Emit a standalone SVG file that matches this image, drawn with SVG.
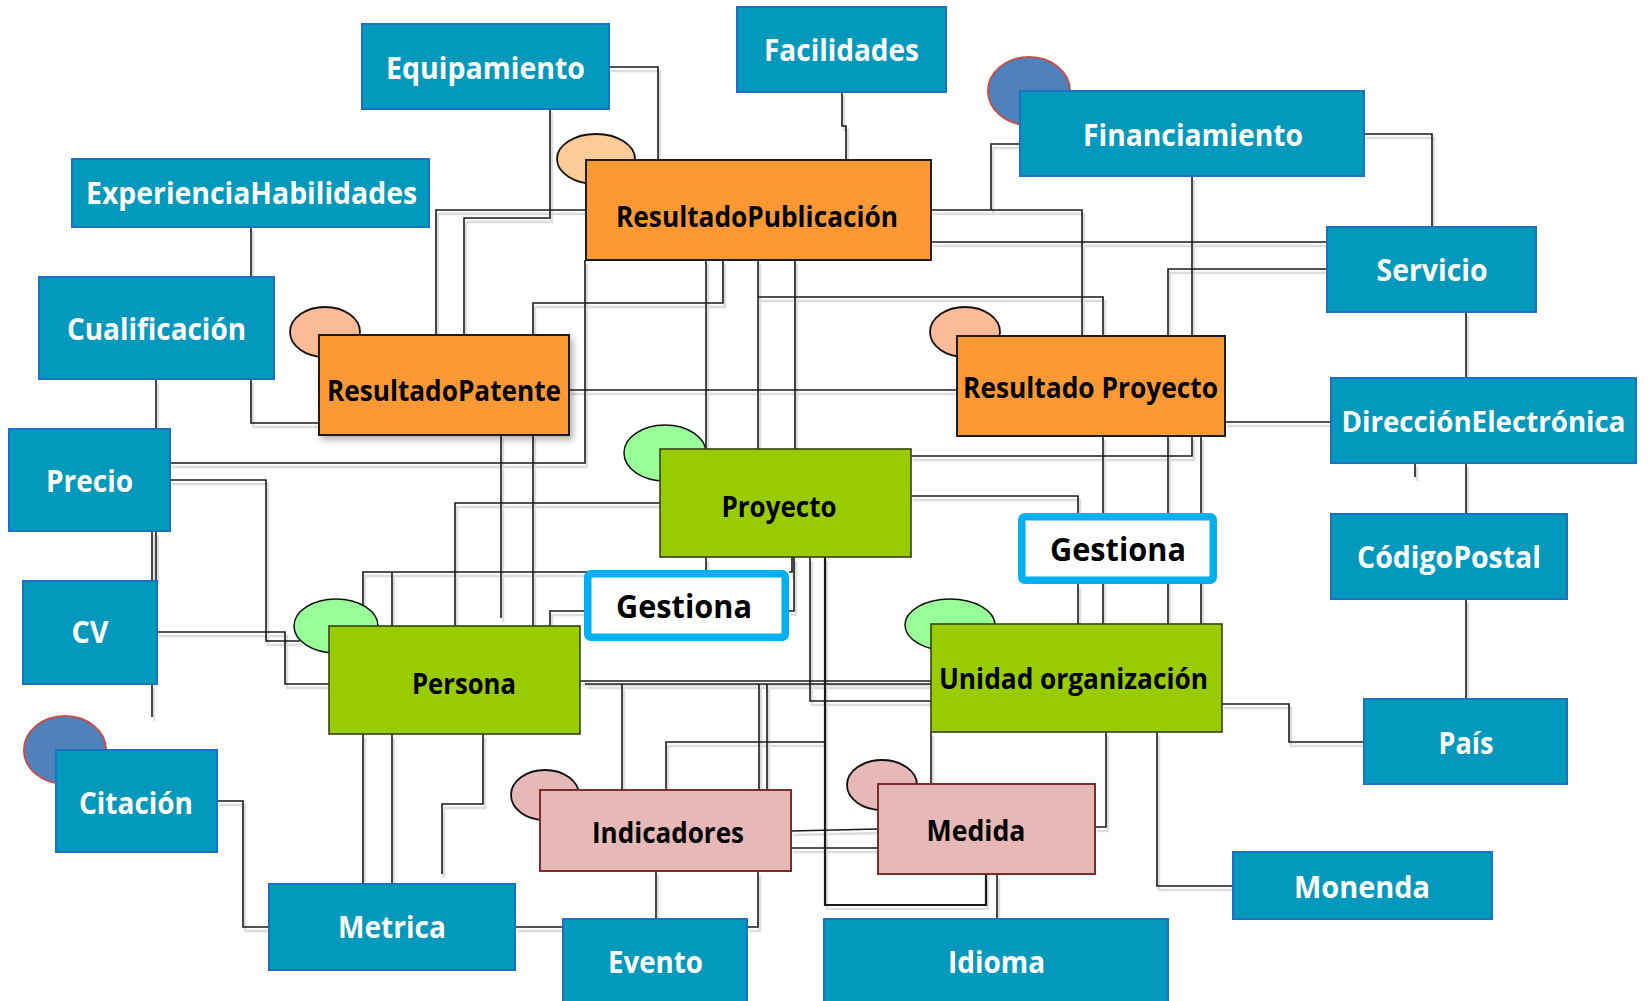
<svg xmlns="http://www.w3.org/2000/svg" xmlns:xlink="http://www.w3.org/1999/xlink" width="1650" height="1001" viewBox="0 0 1650 1001">
<defs>
<style>
.blue rect{fill:#0399bd;stroke:#1b72c4;stroke-width:2}
.org rect{fill:#fd9934;stroke:#1e1e1e;stroke-width:2}
.grn rect{fill:#99cc00;stroke:#34440c;stroke-width:1.6}
.pnk rect{fill:#e6b8b7;stroke:#7a2e2c;stroke-width:2}
.ges rect{fill:#ffffff;stroke:#00b0f0;stroke-width:7.5}
.e-peach{fill:#ffcc99;stroke:#111;stroke-width:1.8}
.e-salmon{fill:#fcbb98;stroke:#111;stroke-width:1.8}
.e-green{fill:#99ff99;stroke:#111;stroke-width:1.5}
.e-blue{fill:#4f81bd;stroke:#c0504d;stroke-width:2}
.e-pink{fill:#e6b8b7;stroke:#111;stroke-width:1.8}
.wt{font-family:"Open Sans","Noto Sans","Liberation Sans",sans-serif;font-weight:700;font-size:31px;fill:#ffffff;text-anchor:middle}
.bt{font-family:"Open Sans","Noto Sans","Liberation Sans",sans-serif;font-weight:700;font-size:28px;fill:#000000;text-anchor:middle}
.gt{font-family:"Open Sans","Noto Sans","Liberation Sans",sans-serif;font-weight:700;font-size:33px;fill:#000000;text-anchor:middle}
</style>
<filter id="sh" x="-10%" y="-10%" width="130%" height="140%">
<feDropShadow dx="3" dy="4" stdDeviation="3" flood-color="#000" flood-opacity="0.3"/>
</filter>
</defs>
<rect width="1650" height="1001" fill="#ffffff"/>

<g id="connectors" fill="none">
<use xlink:href="#links" href="#links" transform="translate(2,4)" stroke="#dddddd" stroke-width="2.5"/>
<g stroke="#1a1a1a" stroke-width="1.6">
<g id="links">
<path d="M251,227 V277"/>
<path d="M156,379 V429"/>
<path d="M251,379 V423 H319"/>
<path d="M152,531 V581 M156,531 V581"/>
<path d="M152,684 V717"/>
<path d="M170,463 H585 V260"/>
<path d="M170,480 H266 V641 H300"/>
<path d="M157,632 H285 V684 H329"/>
<path d="M217,801 H243 V927 H269"/>
<path d="M515,927 H563"/>
<path d="M363,734 V884 M392,734 V884"/>
<path d="M483,734 V804 H442 V874"/>
<path d="M609,67 H658 V160"/>
<path d="M550,109 V218 H464 V335"/>
<path d="M586,210 H436 V335"/>
<path d="M842,92 V126 H846 V160"/>
<path d="M723,260 V303 H533 V335"/>
<path d="M533,435 V626"/>
<path d="M501,435 V618"/>
<path d="M569,390 H957"/>
<path d="M706,260 V449 M758,260 V449 M795,260 V449"/>
<path d="M758,297 H1103 V336"/>
<path d="M455,626 V503 H660"/>
<path d="M363,626 V572 H706 V557 M392,626 V572"/>
<path d="M550,626 V611 H584"/>
<path d="M789,611 H794 V557 M789,572 H792 V557"/>
<path d="M911,456 H1192 V436"/>
<path d="M911,496 H1078 V513"/>
<path d="M1078,584 V624"/>
<path d="M1103,436 V624 M1168,436 V624 M1201,436 V624"/>
<path d="M1225,422 H1331"/>
<path d="M931,242 H1327"/>
<path d="M931,210 H1082 V336 M991,210 V144 H1020"/>
<path d="M1192,176 V336"/>
<path d="M1364,134 H1432 V227"/>
<path d="M1327,269 H1168 V336"/>
<path d="M1466,312 V378 M1466,463 V514 M1466,598 V699 M1415,463 V477"/>
<path d="M1222,704 H1289 V742 H1364"/>
<path d="M1157,732 V886 H1233"/>
<path d="M1106,732 V827 H1095"/>
<path d="M931,732 V784"/>
<path d="M997,874 V919"/>
<path d="M825,557 V905 H986 V874" stroke-width="2.2"/>
<path d="M810,557 V701 H931"/>
<path d="M580,681 H931 M585,684 H931"/>
<path d="M622,684 V790 M759,684 V790 M767,684 V790"/>
<path d="M666,790 V742 H825"/>
<path d="M791,831 L878,829 M791,848 H878"/>
<path d="M656,871 V919 M758,871 V927 H747"/>
</g>
</g>
</g>

<g id="n-equipamiento" class="blue"><rect x="362" y="24" width="247" height="85"/><text class="wt" x="485.5" y="79" textLength="199" lengthAdjust="spacingAndGlyphs">Equipamiento</text></g>
<g id="n-facilidades" class="blue"><rect x="737" y="7" width="209" height="85"/><text class="wt" x="841.5" y="61" textLength="155" lengthAdjust="spacingAndGlyphs">Facilidades</text></g>
<g id="n-experiencia" class="blue"><rect x="72" y="159" width="357" height="68"/><text class="wt" x="251.5" y="204" textLength="331" lengthAdjust="spacingAndGlyphs">ExperienciaHabilidades</text></g>
<g id="n-cualificacion" class="blue"><rect x="39" y="277" width="235" height="102"/><text class="wt" x="156.5" y="340" textLength="179" lengthAdjust="spacingAndGlyphs">Cualificación</text></g>
<g id="n-financiamiento" class="blue"><ellipse class="e-blue" cx="1029" cy="91" rx="41" ry="34"/><rect x="1020" y="91" width="344" height="85"/><text class="wt" x="1193" y="146" textLength="220" lengthAdjust="spacingAndGlyphs">Financiamiento</text></g>
<g id="n-servicio" class="blue"><rect x="1327" y="227" width="209" height="85"/><text class="wt" x="1432" y="281" textLength="111" lengthAdjust="spacingAndGlyphs">Servicio</text></g>
<g id="n-direccion" class="blue"><rect x="1331" y="378" width="305" height="85"/><text class="wt" x="1483.5" y="432" style="font-size:28px" textLength="284" lengthAdjust="spacingAndGlyphs">DirecciónElectrónica</text></g>
<g id="n-codigopostal" class="blue"><rect x="1331" y="514" width="236" height="85"/><text class="wt" x="1449" y="568" textLength="184" lengthAdjust="spacingAndGlyphs">CódigoPostal</text></g>
<g id="n-pais" class="blue"><rect x="1364" y="699" width="203" height="85"/><text class="wt" x="1466" y="754" textLength="55" lengthAdjust="spacingAndGlyphs">País</text></g>
<g id="n-monenda" class="blue"><rect x="1233" y="852" width="259" height="67"/><text class="wt" x="1362" y="898" textLength="136" lengthAdjust="spacingAndGlyphs">Monenda</text></g>
<g id="n-precio" class="blue"><rect x="9" y="429" width="161" height="102"/><text class="wt" x="89.5" y="492" textLength="87" lengthAdjust="spacingAndGlyphs">Precio</text></g>
<g id="n-cv" class="blue"><rect x="23" y="581" width="134" height="103"/><text class="wt" x="90" y="643" textLength="37" lengthAdjust="spacingAndGlyphs">CV</text></g>
<g id="n-citacion" class="blue"><ellipse class="e-blue" cx="65" cy="750" rx="41" ry="34"/><rect x="56" y="750" width="161" height="102"/><text class="wt" x="136" y="814" textLength="114" lengthAdjust="spacingAndGlyphs">Citación</text></g>
<g id="n-metrica" class="blue"><rect x="269" y="884" width="246" height="86"/><text class="wt" x="392" y="938" textLength="108" lengthAdjust="spacingAndGlyphs">Metrica</text></g>
<g id="n-evento" class="blue"><rect x="563" y="919" width="184" height="95"/><text class="wt" x="655.5" y="973" textLength="95" lengthAdjust="spacingAndGlyphs">Evento</text></g>
<g id="n-idioma" class="blue"><rect x="824" y="919" width="344" height="95"/><text class="wt" x="996.5" y="973" textLength="97" lengthAdjust="spacingAndGlyphs">Idioma</text></g>

<g id="n-resultadopublicacion" class="org"><ellipse class="e-peach" cx="596" cy="159" rx="39" ry="25"/><rect x="586" y="160" width="345" height="100"/><text class="bt" x="757" y="227" textLength="282" lengthAdjust="spacingAndGlyphs">ResultadoPublicación</text></g>
<g id="n-resultadopatente" class="org"><ellipse class="e-salmon" cx="325" cy="332" rx="35" ry="25"/><rect x="319" y="335" width="250" height="100" filter="url(#sh)"/><text class="bt" x="444" y="401" textLength="234" lengthAdjust="spacingAndGlyphs">ResultadoPatente</text></g>
<g id="n-resultadoproyecto" class="org"><ellipse class="e-salmon" cx="965" cy="332" rx="35" ry="25"/><rect x="957" y="336" width="268" height="100"/><text class="bt" x="1090.5" y="398" textLength="255" lengthAdjust="spacingAndGlyphs">Resultado Proyecto</text></g>

<g id="n-proyecto" class="grn"><ellipse class="e-green" cx="665" cy="453" rx="41" ry="28"/><rect x="660" y="449" width="251" height="108"/><text class="bt" x="779" y="517" textLength="115" lengthAdjust="spacingAndGlyphs">Proyecto</text></g>
<g id="n-persona" class="grn"><ellipse class="e-green" cx="336" cy="626" rx="42" ry="27"/><rect x="329" y="626" width="251" height="108"/><text class="bt" x="464" y="694" textLength="104" lengthAdjust="spacingAndGlyphs">Persona</text></g>
<g id="n-unidad" class="grn"><ellipse class="e-green" cx="950" cy="625" rx="45" ry="26"/><rect x="931" y="624" width="291" height="108"/><text class="bt" x="1073.5" y="689" textLength="269" lengthAdjust="spacingAndGlyphs">Unidad organización</text></g>

<g id="n-indicadores" class="pnk"><ellipse class="e-pink" cx="545" cy="795" rx="34" ry="25"/><rect x="540" y="790" width="251" height="81"/><text class="bt" x="668" y="843" textLength="152" lengthAdjust="spacingAndGlyphs">Indicadores</text></g>
<g id="n-medida" class="pnk"><ellipse class="e-pink" cx="882" cy="785" rx="35" ry="25"/><rect x="878" y="784" width="217" height="90"/><text class="bt" x="976" y="841" textLength="99" lengthAdjust="spacingAndGlyphs">Medida</text></g>

<g id="n-gestiona1" class="ges"><rect x="587.75" y="573.75" width="197.5" height="63.5" rx="3"/><text class="gt" x="684" y="618" textLength="136" lengthAdjust="spacingAndGlyphs">Gestiona</text></g>
<g id="n-gestiona2" class="ges"><rect x="1021.75" y="516.75" width="191.5" height="63.5" rx="3"/><text class="gt" x="1118" y="561" textLength="136" lengthAdjust="spacingAndGlyphs">Gestiona</text></g>
</svg>
